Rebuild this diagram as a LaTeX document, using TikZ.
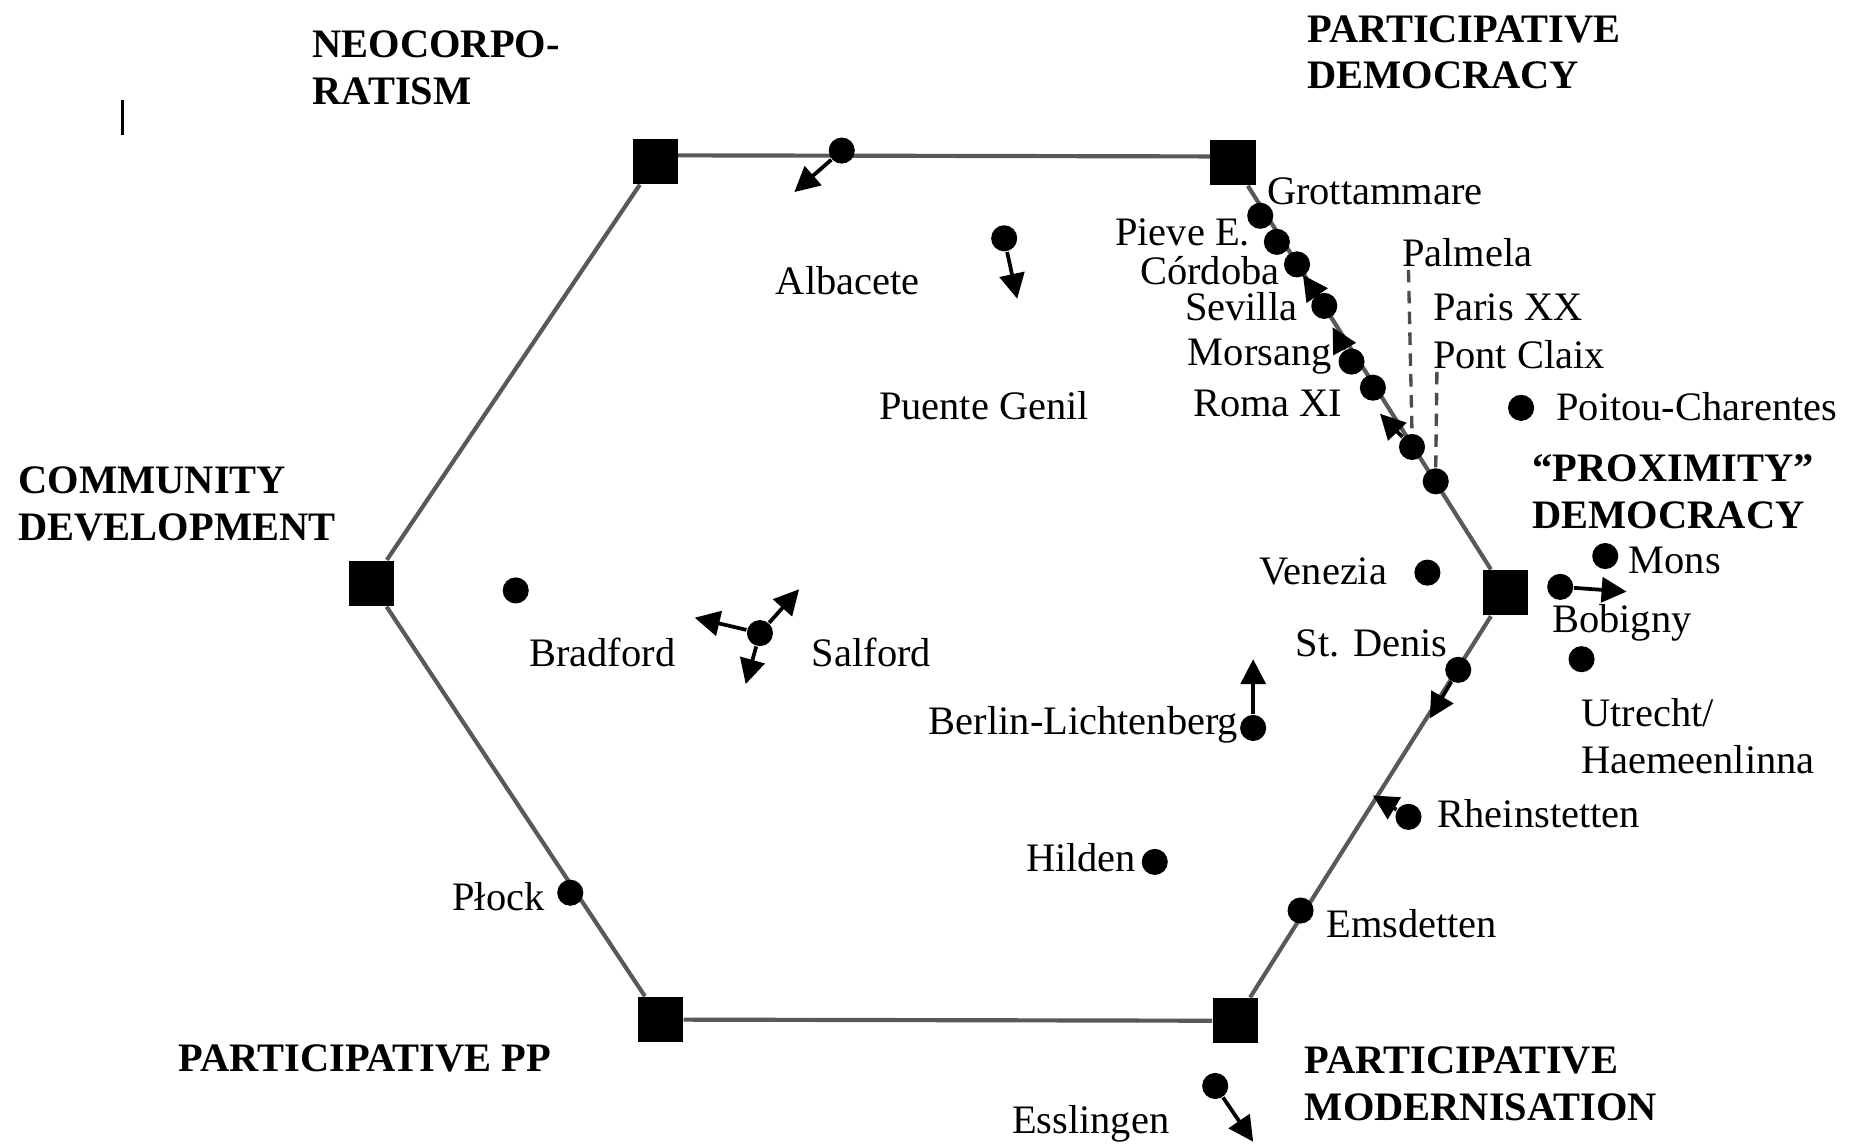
\documentclass[tikz,border=0pt]{standalone}
\usepackage{fontspec}
\setmainfont{Liberation Serif}
\usetikzlibrary{arrows.meta,backgrounds}
\begin{document}
\begin{tikzpicture}[x=0.01cm,y=-0.01cm,
  vert/.style={rectangle,fill=black,minimum size=0.38cm,inner sep=0pt},
  dot/.style={circle,fill=black,minimum size=0.22cm,inner sep=0pt},
  lbl/.style={inner sep=0pt,font=\fontsize{9.7}{11.2}\selectfont},
  head/.style={inner sep=0pt,align=left,font=\fontsize{9.7}{11.2}\selectfont\bfseries},
  hexedge/.style={draw=black!65,line width=1pt},
  mv/.style={-{Triangle[length=6pt,width=6pt]},line width=0.9pt},
  dashline/.style={draw=black!70,line width=0.8pt,dash pattern=on 3pt off 2pt}]
\useasboundingbox (0,0) rectangle (1568,967);

% vertices
\node[vert] (tl) at (553,136) {};
\node[vert] (tr) at (1040,137) {};
\node[vert] (l)  at (313,492) {};
\node[vert] (r)  at (1270,500) {};
\node[vert] (bl) at (557,860) {};
\node[vert] (br) at (1042,861) {};

\begin{pgfonlayer}{background}
\fill[white] (0,0) rectangle (1568,967);
\draw[hexedge] ([yshift=0.05cm]tl.center) -- ([yshift=0.05cm]tr.center);
\draw[hexedge] (tl) -- (l);
\draw[hexedge] (l) -- (bl);
\draw[hexedge] (bl) -- (br);
\draw[hexedge] (br) -- (r);
\draw[hexedge] (r) -- (tr);
\end{pgfonlayer}

% stray mark
\node[fill=black,minimum width=0.025cm,minimum height=0.3cm,inner sep=0pt] (mark) at (103,99) {};

% headings
\node[head,anchor=west] (hneo) at (263,57) {NEOCORPO-\\RATISM};
\node[head,anchor=west] (hpd) at (1102,44) {PARTICIPATIVE\\DEMOCRACY};
\node[head,anchor=west] (hcd) at (15,425) {COMMUNITY\\DEVELOPMENT};
\node[head,anchor=west] (hpp) at (150,893) {PARTICIPATIVE PP};
\node[head,anchor=west] (hpm) at (1100,914) {PARTICIPATIVE\\MODERNISATION};
\node[head,anchor=west] (hprox) at (1292,415) {“PROXIMITY”\\DEMOCRACY};

% dots
\node[dot] (dtop) at (710,127) {};
\node[dot] (dalb) at (847,201) {};
\node[dot] (dgrott) at (1063,182) {};
\node[dot] (dpieve) at (1077,204) {};
\node[dot] (dcord) at (1094,223) {};
\node[dot] (dsev) at (1117,258) {};
\node[dot] (dmors) at (1140,305) {};
\node[dot] (droma) at (1158,327) {};
\node[dot] (dpalm) at (1191,377) {};
\node[dot] (dpont) at (1211,406) {};
\node[dot] (dpoit) at (1283,344) {};
\node[dot] (dmons) at (1354,469) {};
\node[dot] (dbob) at (1316,495) {};
\node[dot] (dutr) at (1334,556) {};
\node[dot] (dven) at (1204,483) {};
\node[dot] (dden) at (1230,565) {};
\node[dot] (drhein) at (1188,689) {};
\node[dot] (demsd) at (1097,768) {};
\node[dot] (dberlin) at (1057,614) {};
\node[dot] (dhilden) at (974,727) {};
\node[dot] (dbrad) at (435,498) {};
\node[dot] (dsal) at (641,534) {};
\node[dot] (dplock) at (481,753) {};
\node[dot] (dess) at (1025,916) {};

% arrow ends
\coordinate (atop) at (670,162);
\coordinate (aalb) at (858,252);
\coordinate (asev) at (1099,232);
\coordinate (amors) at (1124,276);
\coordinate (apalm) at (1164,349);
\coordinate (abob) at (1372,499);
\coordinate (aden) at (1206,606);
\coordinate (arhein) at (1158,671);
\coordinate (aberlin) at (1057,556);
\coordinate (asal1) at (586,521);
\coordinate (asal2) at (674,497);
\coordinate (asal3) at (629,577);
\coordinate (aess) at (1057,963);

\draw[mv] (dtop) -- (atop);
\draw[mv] (dalb) -- (aalb);
\draw[mv] (dsev) -- (asev);
\draw[mv] (dmors) -- (amors);
\draw[mv] (dpalm) -- (apalm);
\draw[mv] (dbob) -- (abob);
\draw[mv] (dden) -- (aden);
\draw[mv] (drhein) -- (arhein);
\draw[mv] (dberlin) -- (aberlin);
\draw[mv] (dsal) -- (asal1);
\draw[mv] (dsal) -- (asal2);
\draw[mv] (dsal) -- (asal3);
\draw[mv] (dess) -- (aess);

% labels
\node[lbl] (lalb) at (715,237) {Albacete};
\node[lbl] (lpuente) at (830,342) {Puente Genil};
\node[lbl,anchor=west] (lgrott) at (1068,161) {Grottammare};
\node[lbl,anchor=east] (lpieve) at (1055,196) {Pieve E.};
\node[lbl,anchor=east] (lcord) at (1080,228) {Córdoba};
\node[lbl,anchor=east] (lsev) at (1095,259) {Sevilla};
\node[lbl,anchor=east] (lmors) at (1124,301) {Morsang};
\node[lbl,anchor=east] (lroma) at (1133,340) {Roma XI};
\node[lbl,anchor=west] (lpalm) at (1182,213) {Palmela};
\node[lbl,anchor=west] (lparis) at (1208,259) {Paris XX};
\node[lbl,anchor=west] (lpont) at (1208,299) {Pont Claix};
\node[lbl,anchor=west] (lpoit) at (1312,343) {Poitou-Charentes};
\node[lbl,anchor=west] (lmons) at (1373,473) {Mons};
\node[lbl] (lbob) at (1368,525) {Bobigny};
\node[lbl,anchor=west,align=left] (lutr) at (1333,621) {Utrecht/\\Haemeenlinna};
\node[lbl] (lven) at (1116,482) {Venezia};
\node[lbl] (lden) at (1157,543) {St. Denis};
\node[lbl,anchor=west] (lrhein) at (1212,686) {Rheinstetten};
\node[lbl,anchor=west] (lemsd) at (1118,779) {Emsdetten};
\node[lbl,anchor=east] (lberlin) at (1045,611) {Berlin-Lichtenberg};
\node[lbl,anchor=east] (lhilden) at (959,723) {Hilden};
\node[lbl] (lbrad) at (508,550) {Bradford};
\node[lbl] (lsal) at (735,550) {Salford};
\node[lbl,anchor=east] (lplock) at (460,756) {Płock};
\node[lbl] (less) at (920,948) {Esslingen};

% dashed leaders
\draw[dashline] ([xshift=0.06cm,yshift=-0.02cm]lpalm.south west) -- (dpalm.north);
\draw[dashline] ([xshift=0.04cm,yshift=-0.02cm]lpont.south west) -- (dpont.north);
\end{tikzpicture}
\end{document}
